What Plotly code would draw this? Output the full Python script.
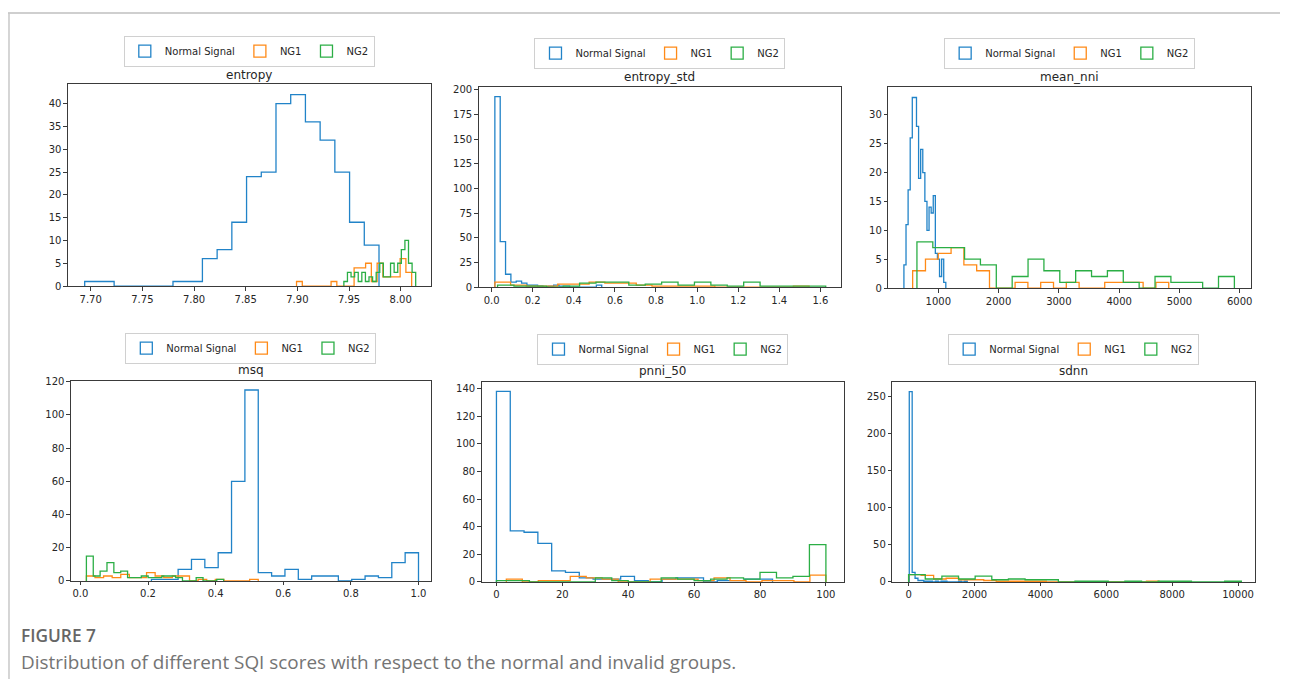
import numpy as np
import plotly.graph_objects as go

# the page body keeps its default 8px margin on every side
OFF = 8
W, H = 1289 - 2 * OFF, 693 - 2 * OFF
# measured vertical relation between page pixels and the photographed picture
V_SHIFT, V_SCALE = 5.0, 0.984

panel_titles = ["entropy", "entropy_std", "mean_nni", "msq", "pnni_50", "sdnn"]
series_names = ["Normal Signal", "NG1", "NG2"]
series_colors = ["#2183c8", "#ff8a17", "#2bae45"]

# ---- histogram data: (bin range lo, hi) and counts (20 equal bins) ----
entropy_ranges = [(7.6942, 7.9790), (7.8992, 8.0106), (7.9450, 8.0145)]
entropy_normal = [1, 1, 0, 0, 0, 0, 1, 1, 6, 8, 14, 24, 25, 40, 42, 36, 32, 25, 14, 9]
entropy_ng1 = [1, 0, 0, 0, 0, 0, 1, 0, 0, 0, 4, 4, 5, 1, 5, 2, 2, 2, 6, 3]
entropy_ng2 = [1, 3, 2, 3, 1, 3, 1, 2, 1, 3, 5, 2, 2, 5, 3, 5, 8, 10, 5, 3]

entropy_std_ranges = [(0.016, 0.536), (0.016, 1.545), (0.029, 1.626)]
entropy_std_normal = [193, 46, 13, 5, 6, 4, 2, 2, 1, 0, 1, 2, 1, 1, 0, 0, 0, 0, 0, 2]
entropy_std_ng1 = [5, 2, 1, 1, 3, 3, 5, 4, 4, 2, 1, 1, 1, 1, 0, 0, 0, 0, 0, 1]
entropy_std_ng2 = [2, 1, 1, 0, 1, 4, 5, 5, 2, 3, 5, 2, 5, 2, 1, 5, 1, 1, 1, 1]

mean_nni_ranges = [(430, 1125), (575, 4823), (646, 5912)]
mean_nni_normal = [4, 11, 17, 26, 33, 33, 28, 19, 24, 20, 15, 10, 14, 13, 16, 6, 5, 2, 5, 1]
mean_nni_ng1 = [3, 5, 6, 7, 4, 3, 0, 0, 1, 0, 1, 0, 1, 0, 0, 1, 1, 1, 0, 1]
mean_nni_ng2 = [8, 7, 7, 5, 4, 0, 2, 5, 3, 1, 3, 2, 3, 1, 0, 2, 1, 1, 0, 2]

msq_ranges = [(0.21, 1.0), (0.0177, 0.526), (0.0177, 0.4236)]
msq_normal = [1, 1, 7, 13, 8, 17, 60, 115, 5, 3, 7, 1, 3, 3, 0, 1, 3, 2, 11, 17]
msq_ng1 = [3, 2, 3, 2, 4, 2, 2, 5, 3, 2, 3, 3, 0, 1, 0, 1, 0, 0, 0, 1]
msq_ng2 = [15, 3, 6, 11, 5, 6, 2, 2, 3, 2, 2, 3, 3, 2, 0, 0, 2, 0, 0, 1]

pnni_50_ranges = [(0.0, 83.8), (3.0, 100.0), (0.0, 100.0)]
pnni_50_normal = [138, 37, 36, 28, 8, 7, 3, 2, 2, 4, 1, 0, 2, 3, 3, 0, 1, 1, 2, 2]
pnni_50_ng1 = [2, 0, 1, 1, 4, 3, 2, 0, 0, 2, 2, 2, 1, 3, 1, 0, 1, 1, 0, 5]
pnni_50_ng2 = [1, 1, 0, 0, 0, 0, 3, 1, 0, 0, 3, 2, 1, 2, 3, 2, 7, 3, 4, 27]

sdnn_ranges = [(20, 1780), (0, 7600), (0, 10100)]
sdnn_normal = [256, 13, 5, 2, 2, 1, 1, 1, 0, 1, 0, 1, 1, 0, 0, 0, 0, 1, 0, 1]
sdnn_ng1 = [10, 9, 4, 5, 3, 3, 2, 1, 1, 1, 1, 0, 0, 0, 0, 0, 0, 0, 0, 1]
sdnn_ng2 = [10, 4, 8, 4, 8, 3, 4, 3, 3, 0, 1, 1, 0, 1, 0, 1, 1, 0, 0, 1]

# axis settings per panel
x_ranges = [(7.678, 8.029), (-0.063, 1.702), (171, 6188), (-0.028, 1.036), (-4.5, 105.6), (-495, 10515)]
y_ranges = [(0, 44.3), (0, 202.7), (0, 34.8), (0, 120.4), (0, 144.8), (0, 269)]
x_dticks = [0.05, 0.2, 1000, 0.2, 20, 2000]
x_tick0 = [7.70, 0, 0, 0, 0, 0]
x_formats = [".2f", ".1f", "d", ".1f", "d", "d"]
y_dticks = [5, 25, 5, 20, 20, 50]

panel_data = [
    (entropy_ranges, [entropy_normal, entropy_ng1, entropy_ng2]),
    (entropy_std_ranges, [entropy_std_normal, entropy_std_ng1, entropy_std_ng2]),
    (mean_nni_ranges, [mean_nni_normal, mean_nni_ng1, mean_nni_ng2]),
    (msq_ranges, [msq_normal, msq_ng1, msq_ng2]),
    (pnni_50_ranges, [pnni_50_normal, pnni_50_ng1, pnni_50_ng2]),
    (sdnn_ranges, [sdnn_normal, sdnn_ng1, sdnn_ng2]),
]

# plot-area pixel boxes in the picture (left, right, top, bottom)
boxes = [
    (68, 431, 84, 286),
    (479, 842, 87, 287),
    (889, 1252, 87, 288),
    (71, 431, 381, 581),
    (482, 845, 382, 582),
    (893, 1256, 382, 582),
]
legend_centers = [51, 53, 53, 348, 349, 349]
title_centers = [75, 77, 77, 370, 371, 371]


def px_x(p):
    return (p - OFF) / W


def px_y(p):
    page = (p - V_SHIFT) / V_SCALE
    return 1 - (page - OFF) / H


def step_xy(lo, hi, counts):
    n = len(counts)
    edges = np.linspace(lo, hi, n + 1)
    x = [edges[0]] + list(edges)
    y = [0] + list(counts) + [0]
    return x, y


fig = go.Figure()
AX = "#3a3a3a"
TXT = "#262626"
FONT = "DejaVu Sans"

for i, (ranges, counts_list) in enumerate(panel_data):
    k = i + 1
    xa = "x" if k == 1 else f"x{k}"
    ya = "y" if k == 1 else f"y{k}"
    leg = "legend" if k == 1 else f"legend{k}"
    for (lo, hi), counts, name, color in zip(ranges, counts_list, series_names, series_colors):
        x, y = step_xy(lo, hi, counts)
        fig.add_trace(go.Scatter(
            x=x, y=y, mode="lines", line=dict(color=color, width=1.3, shape="hv"),
            xaxis=xa, yaxis=ya, showlegend=False, name=name, hoverinfo="skip"))
    for name, color in zip(series_names, series_colors):
        fig.add_trace(go.Bar(
            x=[None], y=[None], name=name, xaxis=xa, yaxis=ya, legend=leg,
            marker=dict(color="rgba(255,255,255,0)", line=dict(color=color, width=1.3))))

    l, r, t, b = boxes[i]
    axis_common = dict(showline=True, mirror=True, linecolor=AX, linewidth=1,
                       ticks="outside", ticklen=3.5, tickwidth=1, tickcolor=AX,
                       showgrid=False, zeroline=False,
                       tickfont=dict(family=FONT, size=10, color=TXT))
    fig.layout[("xaxis" if k == 1 else f"xaxis{k}")] = dict(
        domain=[px_x(l), px_x(r)], anchor=ya, range=list(x_ranges[i]),
        tick0=x_tick0[i], dtick=x_dticks[i], tickformat=x_formats[i], **axis_common)
    fig.layout[("yaxis" if k == 1 else f"yaxis{k}")] = dict(
        domain=[px_y(b), px_y(t)], anchor=xa, range=list(y_ranges[i]),
        dtick=y_dticks[i], **axis_common)
    fig.layout[leg] = dict(
        x=px_x((l + r) / 2), xanchor="center", y=px_y(legend_centers[i]), yanchor="middle",
        orientation="h", bgcolor="white", bordercolor="#d0d0d0", borderwidth=1,
        font=dict(family=FONT, size=10, color=TXT), itemwidth=30,
        tracegroupgap=0)
    fig.add_annotation(
        text=panel_titles[i], xref="paper", yref="paper",
        x=px_x((l + r) / 2), y=px_y(title_centers[i]), xanchor="center", yanchor="middle",
        showarrow=False, font=dict(family=FONT, size=12, color=TXT))

# caption
fig.add_annotation(text="FIGURE 7", xref="paper", yref="paper", x=px_x(19), y=px_y(636),
                   xanchor="left", yanchor="middle", showarrow=False,
                   font=dict(family="Open Sans", size=17.3, color="#666666", weight=600))
fig.add_annotation(text="Distribution of different SQI scores with respect to the normal and invalid groups.",
                   xref="paper", yref="paper", x=px_x(19), y=px_y(662),
                   xanchor="left", yanchor="middle", showarrow=False,
                   font=dict(family="Open Sans", size=18.9, color="#747474"))

# page frame lines
fig.add_shape(type="line", xref="paper", yref="paper", x0=0, x1=1, y0=1, y1=1,
              line=dict(color="#cfcfcf", width=2))
fig.add_shape(type="line", xref="paper", yref="paper", x0=1 / W, x1=1 / W, y0=0, y1=1,
              line=dict(color="#c8c8c8", width=1.5))

fig.update_layout(width=W, height=H, margin=dict(l=0, r=0, t=0, b=0),
                  paper_bgcolor="white", plot_bgcolor="white", barmode="overlay")

fig.write_html("out.html")
